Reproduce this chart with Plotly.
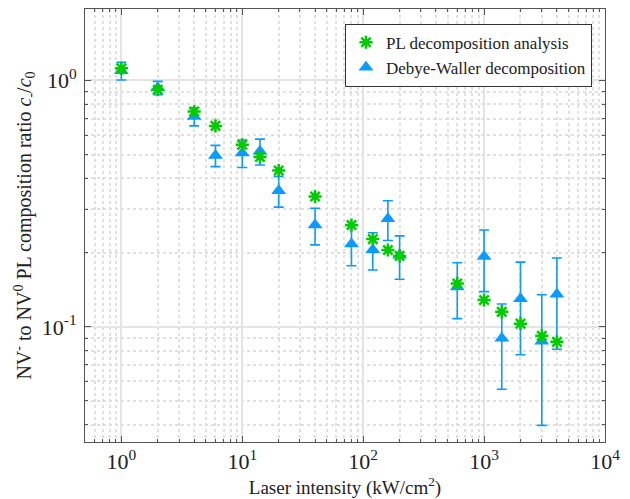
import plotly.graph_objects as go

intensity = [1, 2, 4, 6, 10, 14, 20, 40, 80, 120, 160, 200, 600, 1000, 1400, 2000, 3000, 4000]
pl_ratio = [1.12, 0.917, 0.748, 0.654, 0.548, 0.489, 0.431, 0.338, 0.259, 0.227, 0.205, 0.194,
            0.150, 0.1285, 0.115, 0.103, 0.0919, 0.0869]
dw_ratio = [1.094, 0.933, 0.714, 0.496, 0.508, 0.516, 0.357, 0.259, 0.217, 0.2055, 0.2745, 0.195,
            0.145, 0.193, 0.0898, 0.130, 0.0874, 0.1357]
dw_err = [0.09, 0.058, 0.06, 0.049, 0.065, 0.062, 0.051, 0.044, 0.04, 0.0355, 0.0505, 0.039,
          0.037, 0.054, 0.034, 0.053, 0.0476, 0.0546]

x_ticks = [1, 10, 100, 1000, 10000]
x_ticktext = ["10<sup>0</sup>", "10<sup>1</sup>", "10<sup>2</sup>", "10<sup>3</sup>", "10<sup>4</sup>"]
y_ticks = [0.1, 1]
y_ticktext = ["10<sup>-1</sup>", "10<sup>0</sup>"]

green = "#00CC00"
blue = "#0A9BFF"
font_family = "Liberation Serif, Times New Roman, serif"
text_color = "#222222"

fig = go.Figure()
fig.add_trace(go.Scatter(
    x=intensity, y=dw_ratio, mode="markers", name="Debye-Waller decomposition",
    marker=dict(symbol="triangle-up", size=13, color=blue),
    error_y=dict(type="data", array=dw_err, visible=True, color=blue, thickness=1.6, width=5),
))
fig.add_trace(go.Scatter(
    x=intensity, y=pl_ratio, mode="markers", name="PL decomposition analysis",
    marker=dict(symbol="asterisk-open", size=11, color=green, line=dict(color=green, width=2.5)),
))

axis_common = dict(
    type="log", showline=True, linecolor="#555555", linewidth=1, mirror="ticks",
    ticks="inside", ticklen=6, tickcolor="#555555", automargin=False,
    showgrid=True, gridcolor="#E4E4E4", gridwidth=1.5, zeroline=False,
    tickfont=dict(family=font_family, size=22, color=text_color),
    minor=dict(showgrid=True, gridcolor="#E0E0E0", griddash="dot", ticks="inside",
               ticklen=3, tickcolor="#555555", dtick="D1"),
)

fig.update_xaxes(
    **axis_common, range=[-0.301, 4], tickvals=x_ticks, ticktext=x_ticktext,
    title=dict(text="Laser intensity (kW/cm<sup>2</sup>)",
               font=dict(family=font_family, size=19, color=text_color), standoff=2),
)
fig.update_yaxes(
    **axis_common, range=[-1.4675, 0.29], tickvals=y_ticks, ticktext=y_ticktext,
    ticklabelstandoff=3,
    title=dict(text="NV<sup>-</sup> to NV<sup>0</sup> PL composition ratio <i>c</i><sub>-</sub>/<i>c</i><sub>0</sub>",
               font=dict(family=font_family, size=20, color=text_color), standoff=4),
)

fig.update_layout(
    width=630, height=499, plot_bgcolor="white", paper_bgcolor="white",
    font=dict(family=font_family, color=text_color),
    margin=dict(l=85, r=25, t=9, b=57),
    legend=dict(x=0.975, y=0.966, xanchor="right", yanchor="top", bgcolor="white",
                bordercolor="#333333", borderwidth=1, traceorder="reversed",
                font=dict(family=font_family, size=17, color=text_color),
                itemwidth=30, tracegroupgap=0),
    showlegend=True,
)

fig.write_html("out.html", config={"displayModeBar": False},
               post_script="document.body.style.margin='0';")
